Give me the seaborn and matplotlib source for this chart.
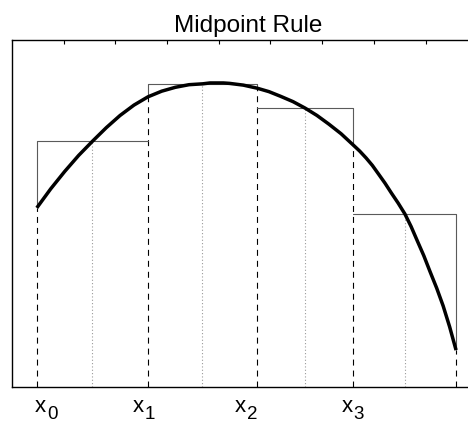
import matplotlib
matplotlib.use("Agg")
import matplotlib.pyplot as plt
import pandas as pd
import seaborn as sns

# Partition points x0..x4 and the function value at each of them
nodes = [0.48, 2.63, 4.74, 6.60, 8.59]
node_f = [4.13, 6.69, 6.89, 5.58, 0.85]

# Rectangle heights: the function value at each subinterval midpoint
mid_f = [5.67, 6.99, 6.43, 3.99]

# Samples of the integrand f(x)
curve_x = [0.48, 0.75, 1.02, 1.29, 1.56, 1.825, 2.09, 2.36, 2.63, 2.895,
           3.16, 3.425, 3.69, 3.83, 3.97, 4.09, 4.21, 4.475, 4.74, 4.97,
           5.20, 5.435, 5.67, 5.90, 6.13, 6.365, 6.60, 6.725, 6.85, 6.97,
           7.09, 7.215, 7.34, 7.47, 7.60, 7.72, 7.84, 7.965, 8.09, 8.215,
           8.34, 8.465, 8.59]
curve_y = [4.13, 4.57, 4.97, 5.34, 5.67, 5.98, 6.26, 6.50, 6.69, 6.82,
           6.91, 6.97, 6.99, 7.01, 7.01, 7.01, 7.00, 6.96, 6.89, 6.81,
           6.70, 6.58, 6.43, 6.26, 6.06, 5.84, 5.58, 5.44, 5.28, 5.11,
           4.91, 4.70, 4.47, 4.24, 3.99, 3.70, 3.37, 3.03, 2.65, 2.28,
           1.87, 1.39, 0.85]

# Node labels under the axis
label_sub = ["0", "1", "2", "3"]
label_x = [0.445, 2.34, 4.31, 6.38]

sns.set_theme(style="white")
plt.rcParams["font.family"] = ["Liberation Sans", "DejaVu Sans"]
plt.rcParams["text.color"] = "black"
plt.rcParams["lines.scale_dashes"] = False

fig = plt.figure(figsize=(4.68, 4.23), dpi=100)
ax = fig.add_axes([0.0256, 0.0851, 0.9942, 0.8203])
ax.set_xlim(0, 9)
ax.set_ylim(0, 8)

mids = [(a + b) / 2 for a, b in zip(nodes[:-1], nodes[1:])]

# dashed verticals at the partition points, up to the curve
for x, f in zip(nodes, node_f):
    ax.plot([x, x], [0, f], color="black", lw=0.8,
            linestyle=(0, (4.3, 3.6)), zorder=2)

# dotted verticals at the midpoints, up to the rectangle top
for m, h in zip(mids, mid_f):
    ax.plot([m, m], [0, h], color="#9a9a9a", lw=0.8,
            linestyle=(0, (0.8, 1.6)), zorder=2)

# rectangle outlines: sides are drawn only where they rise above the curve
for i, h in enumerate(mid_f):
    xl, xr = nodes[i], nodes[i + 1]
    fl, fr = node_f[i], node_f[i + 1]
    ax.plot([xl, xl, xr, xr], [min(fl, h), h, h, min(fr, h)],
            color="#5a5a5a", lw=0.8, zorder=3)

# the integrand itself
curve = pd.DataFrame({"x": curve_x, "f": curve_y})
sns.lineplot(data=curve, x="x", y="f", color="black", lw=2.5,
             sort=False, estimator=None, ax=ax, zorder=4,
             solid_joinstyle="round", solid_capstyle="butt")

ax.set_xlabel("")
ax.set_ylabel("")
ax.set_xticks(range(1, 9))
ax.set_yticks(range(1, 8))
ax.tick_params(direction="in", length=3, width=0.8, color="black",
               top=True, right=True, labelbottom=False, labelleft=False)
for sp in ax.spines.values():
    sp.set_visible(True)
    sp.set_color("black")
    sp.set_linewidth(1.0)

ax.set_title("Midpoint Rule", fontsize=17.5, pad=5.8, x=0.507, color="black")

for lx, sub in zip(label_x, label_sub):
    ax.annotate("x", xy=(lx, 0), xycoords=("data", "axes fraction"),
                xytext=(0, -18), textcoords="offset points",
                ha="left", va="baseline", fontsize=16, annotation_clip=False)
    ax.annotate(sub, xy=(lx, 0), xycoords=("data", "axes fraction"),
                xytext=(8.6, -23.0), textcoords="offset points",
                ha="left", va="baseline", fontsize=13.5, annotation_clip=False)

fig.savefig("out.png", dpi=100)
